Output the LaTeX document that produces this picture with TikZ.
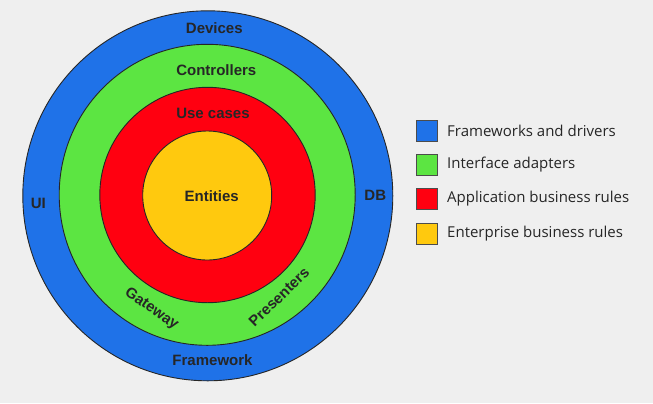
\documentclass[tikz,border=0pt]{standalone}
\usepackage{fontspec}
\setmainfont{Liberation Sans}
\newfontfamily\legendfont{Open Sans}
\begin{document}
\begin{tikzpicture}[x=1bp,y=-1bp,
  ring/.style={draw=black!85,line width=0.9bp},
  ringlabel/.style={font=\fontsize{15bp}{17bp}\selectfont\bfseries,text=black!85,inner sep=0pt,anchor=base},
  swatch/.style={draw=black!70,line width=1.3bp,minimum size=21bp,inner sep=0pt},
  legendtext/.style={font=\legendfont\fontsize{15bp}{17bp}\selectfont,text=black!85,anchor=west,inner sep=0pt}]
\definecolor{bgcol}{HTML}{EFEFEF}
\definecolor{frameblue}{HTML}{1F72E8}
\definecolor{adaptgreen}{HTML}{5CE542}
\definecolor{apprred}{HTML}{FF0010}
\definecolor{entyellow}{HTML}{FFC90E}
% canvas
\fill[bgcol] (0,0) rectangle (653,403);
\useasboundingbox (0,0) rectangle (653,403);
% concentric layers
\fill[frameblue,ring] (207.8,195.8) circle (185);
\fill[adaptgreen,ring] (207.2,194.8) ellipse [x radius=148, y radius=150.5];
\fill[apprred,ring] (207.5,195) circle (107.7);
\fill[entyellow,ring] (207.2,195.5) circle (64.5);
% layer labels (placed by baseline)
\node[ringlabel] (devices) at (214.3,33.3) {Devices};
\node[ringlabel] (controllers) at (216.3,75.7) {Controllers};
\node[ringlabel] (usecases) at (213,118.3) {Use cases};
\node[ringlabel] (entities) at (211.7,201) {Entities};
\node[ringlabel] (ui) at (38.3,208.3) {UI};
\node[ringlabel] (db) at (375.3,200.7) {DB};
\node[ringlabel] (framework) at (212.5,365.7) {Framework};
\node[ringlabel,anchor=center,rotate=-35] (gateway) at (151.5,309) {Gateway};
\node[ringlabel,anchor=center,rotate=44] (presenters) at (279,297) {Presenters};
% legend
\node[swatch,fill=frameblue] (k1) at (427.3,131) {};
\node[swatch,fill=adaptgreen] (k2) at (427.3,165) {};
\node[swatch,fill=apprred] (k3) at (427.3,199) {};
\node[swatch,fill=entyellow] (k4) at (427.3,234) {};
\node[legendtext] (t1) at (447,131) {Frameworks and drivers};
\node[legendtext] (t2) at (447,165) {Interface adapters};
\node[legendtext] (t3) at (447,199) {Application business rules};
\node[legendtext] (t4) at (447,234) {Enterprise business rules};
\end{tikzpicture}
\end{document}
